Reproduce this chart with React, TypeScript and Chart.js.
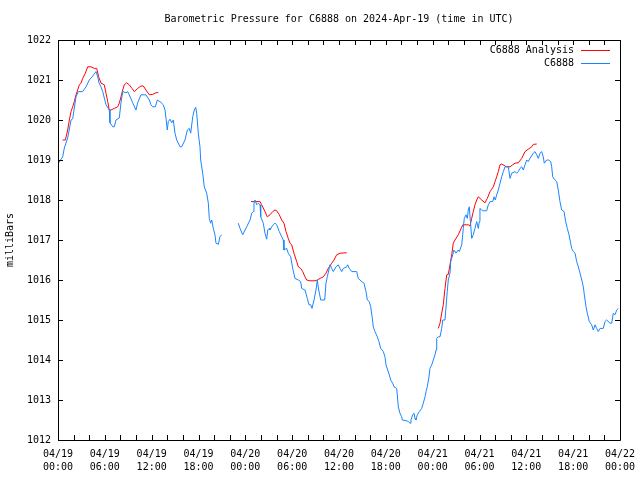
import React, { useEffect, useRef } from 'react';
import { Chart, registerables } from 'chart.js';

Chart.register(...registerables);

const chartTitle = 'Barometric Pressure for C6888 on 2024-Apr-19 (time in UTC)';
const yAxisTitle = 'milliBars';
const analysisLabel = 'C6888 Analysis';
const stationLabel = 'C6888';

// x axis: hours since 2024-04-19 00:00 UTC
const xMin = 0;
const xMax = 72;
const xTickStep = 6;
const xMinorStep = 2;
const xTickDates = ['04/19', '04/19', '04/19', '04/19', '04/20', '04/20', '04/20', '04/20', '04/21', '04/21', '04/21', '04/21', '04/22'];
const xTickTimes = ['00:00', '06:00', '12:00', '18:00', '00:00', '06:00', '12:00', '18:00', '00:00', '06:00', '12:00', '18:00', '00:00'];
const yMin = 1012;
const yMax = 1022;
const yStep = 1;

const stationHours = [
  0.09, 0.6, 0.81, 1.24, 1.67, 1.88, 2.31, 2.6, 3.16, 3.59, 4.01, 4.45, 4.87, 5.09, 5.25, 5.51, 5.73, 6.15, 6.57, 6.66,
  7.01, 7.21, 7.43, 7.85, 8.07, 8.29, 8.71, 8.93, 9.13, 9.57, 9.99, 10.21, 10.63, 11.27, 11.7, 11.91, 12.13, 12.47, 12.72, 13.07,
  13.49, 13.71, 13.84, 14.0, 14.13, 14.35, 14.57, 14.77, 14.99, 15.21, 15.63, 15.85, 16.27, 16.57, 16.82, 17.0, 17.26, 17.46, 17.64, 17.77,
  17.97, 18.19, 18.28, 18.54, 18.74, 19.05, 19.26, 19.38, 19.56, 19.69, 19.9, 20.11, 20.24, 20.54, 20.75, 20.97,
  22.0,
  23.1, 23.32, 23.66, 24.17, 24.6, 24.82, 25.02, 25.11, 25.24, 25.46, 25.66, 25.88, 25.97, 26.3, 26.52, 26.74, 26.87, 27.07, 27.16, 27.38,
  27.58, 27.8, 28.02, 28.35, 28.66, 28.86, 28.95, 29.3, 29.5, 29.81, 30.07, 30.36, 30.79, 31.09, 31.22, 31.64, 31.94, 32.16, 32.37, 32.54,
  32.8, 33.05, 33.22, 33.4, 33.66, 34.17, 34.33, 34.5, 34.85, 35.06, 35.27, 35.62, 35.91, 36.13, 36.35, 36.55, 36.99, 37.11, 37.32, 37.63,
  38.27, 38.47, 38.91, 39.2, 39.46, 39.63, 39.88, 40.06, 40.27, 40.39, 40.61, 40.91, 41.12, 41.34, 41.68, 41.89, 42.02, 42.24, 42.44, 42.62,
  42.88, 43.05, 43.39, 43.47, 43.6, 43.81, 44.03, 44.11, 44.67, 44.88, 45.1, 45.22, 45.44, 45.61, 45.74, 45.86, 46.03, 46.29, 46.59, 46.8,
  47.02, 47.15, 47.31, 47.53, 47.66, 47.88, 48.08, 48.3, 48.43, 48.52, 48.72, 48.94, 49.16, 49.29, 49.58, 49.71, 49.87, 50.0, 50.22, 50.31,
  50.57, 50.73, 50.99, 51.28, 51.41, 51.72, 51.85, 51.92, 52.05, 52.27, 52.44, 52.56, 52.69, 52.87, 53.0, 53.2, 53.42, 53.64, 53.85, 53.97,
  54.06, 54.28, 54.49, 54.92, 55.13, 55.35, 55.69, 55.86, 56.02, 56.2, 56.41, 56.63, 56.85, 57.05, 57.27, 57.69, 57.91, 58.13, 58.55, 58.77,
  58.97, 59.19, 59.41, 59.61, 59.83, 60.05, 60.25, 60.47, 60.89, 61.11, 61.33, 61.53, 61.75, 61.97, 62.17, 62.3, 62.61, 62.82, 63.12, 63.25,
  63.38, 63.58, 63.89, 64.09, 64.31, 64.53, 64.83, 65.04, 65.25, 65.47, 65.68, 65.81, 66.02, 66.24, 66.45, 66.66, 66.88, 67.1, 67.3, 67.43,
  67.65, 67.81, 68.07, 68.37, 68.58, 68.8, 69.01, 69.22, 69.44, 69.86, 70.08, 70.29, 70.72, 70.94, 71.14, 71.36, 71.58, 71.79,
];
const stationPressure = [
  1018.93, 1019.08, 1019.3, 1019.55, 1020.0, 1020.03, 1020.58, 1020.71, 1020.71, 1020.83, 1021.0, 1021.1, 1021.21, 1021.08, 1020.93, 1020.83, 1020.71, 1020.38, 1020.25, 1019.93,
  1019.83, 1019.83, 1020.0, 1020.05, 1020.43, 1020.71, 1020.68, 1020.71, 1020.63, 1020.43, 1020.25, 1020.43, 1020.63, 1020.63, 1020.5, 1020.38, 1020.33, 1020.33, 1020.5, 1020.46,
  1020.38, 1020.25, 1020.04, 1019.75, 1019.96, 1020.02, 1019.93, 1020.0, 1019.67, 1019.5, 1019.33, 1019.33, 1019.5, 1019.75, 1019.79, 1019.67, 1020.08, 1020.25, 1020.32, 1020.17,
  1019.67, 1019.33, 1019.0, 1018.67, 1018.33, 1018.17, 1017.92, 1017.54, 1017.42, 1017.5, 1017.29, 1017.13, 1016.92, 1016.89, 1017.08, 1017.13,
  null,
  1017.42, 1017.29, 1017.13, 1017.33, 1017.5, 1017.67, 1017.71, 1017.92, 1018.0, 1017.88, 1017.92, 1017.88, 1017.58, 1017.42, 1017.17, 1017.02, 1017.25, 1017.29, 1017.25, 1017.33,
  1017.38, 1017.42, 1017.38, 1017.21, 1017.08, 1017.0, 1016.75, 1016.79, 1016.67, 1016.58, 1016.29, 1016.04, 1016.0, 1015.96, 1015.79, 1015.75, 1015.54, 1015.38, 1015.38, 1015.29,
  1015.5, 1015.75, 1016.0, 1015.75, 1015.5, 1015.5, 1015.92, 1016.08, 1016.38, 1016.29, 1016.21, 1016.33, 1016.38, 1016.29, 1016.21, 1016.29, 1016.33, 1016.38, 1016.29, 1016.21,
  1016.21, 1016.04, 1015.96, 1015.92, 1015.71, 1015.5, 1015.46, 1015.33, 1015.04, 1014.83, 1014.71, 1014.58, 1014.46, 1014.29, 1014.21, 1014.08, 1013.88, 1013.75, 1013.63, 1013.5,
  1013.42, 1013.33, 1013.29, 1013.13, 1012.83, 1012.67, 1012.58, 1012.5, 1012.48, 1012.46, 1012.42, 1012.5, 1012.63, 1012.67, 1012.54, 1012.5, 1012.63, 1012.71, 1012.79, 1012.92,
  1013.08, 1013.21, 1013.33, 1013.58, 1013.79, 1013.88, 1014.0, 1014.13, 1014.25, 1014.54, 1014.58, 1014.58, 1014.79, 1015.0, 1015.0, 1015.33, 1015.71, 1016.0, 1016.17, 1016.46,
  1016.63, 1016.75, 1016.67, 1016.75, 1016.71, 1016.88, 1017.13, 1017.29, 1017.54, 1017.63, 1017.54, 1017.75, 1017.83, 1017.38, 1017.04, 1017.13, 1017.29, 1017.46, 1017.29, 1017.46,
  1017.79, 1017.75, 1017.73, 1017.73, 1017.88, 1017.96, 1017.96, 1018.08, 1018.0, 1018.13, 1018.25, 1018.42, 1018.58, 1018.71, 1018.83, 1018.83, 1018.54, 1018.67, 1018.71, 1018.67,
  1018.71, 1018.79, 1018.83, 1018.75, 1018.88, 1019.0, 1018.96, 1019.04, 1019.17, 1019.21, 1019.13, 1019.04, 1019.17, 1019.21, 1019.08, 1018.92, 1019.0, 1019.0, 1018.96, 1018.83,
  1018.58, 1018.52, 1018.46, 1018.25, 1017.96, 1017.75, 1017.71, 1017.46, 1017.29, 1017.13, 1016.92, 1016.79, 1016.71, 1016.67, 1016.46, 1016.33, 1016.17, 1016.0, 1015.83, 1015.63,
  1015.33, 1015.17, 1014.96, 1014.88, 1014.75, 1014.88, 1014.79, 1014.71, 1014.79, 1014.79, 1014.96, 1015.0, 1014.92, 1014.92, 1015.17, 1015.13, 1015.25, 1015.29,
];

const analysisHours = [
  0.6, 0.94, 1.24, 1.45, 1.67, 1.88, 2.09, 2.31, 2.52, 2.73, 2.95, 3.16, 3.5, 3.8, 4.23, 4.65, 4.96, 5.21, 5.51, 5.93,
  6.15, 6.37, 6.57, 6.79, 7.21, 7.65, 7.85, 8.07, 8.29, 8.49, 8.8, 9.13, 9.48, 9.78, 10.21, 10.63, 10.93, 11.27, 11.7, 12.13,
  12.55, 12.85,
  18.0,
  24.73, 25.88, 26.1, 26.52, 26.81, 27.16, 27.51, 27.8, 28.02, 28.35, 28.66, 28.95, 29.21, 29.5, 29.72, 29.94, 30.23, 30.58, 30.79, 31.09,
  31.35, 31.64, 31.86, 32.28, 32.93, 33.22, 33.57, 33.99, 34.33, 34.63, 35.06, 35.36, 35.7, 36.13, 36.99,
  42.0,
  48.72, 48.94, 49.16, 49.36, 49.58, 49.8, 50.0, 50.22, 50.44, 50.64, 50.86, 51.28, 51.72, 51.85, 52.56, 52.78, 53.0, 53.2, 53.42, 53.64,
  53.85, 54.28, 54.7, 55.0, 55.35, 55.56, 55.77, 55.99, 56.2, 56.41, 56.63, 56.85, 57.27, 57.49, 57.91, 58.25, 58.55, 58.97, 59.41, 59.83,
  60.25, 60.69, 60.89, 61.33,
];
const analysisPressure = [
  1019.5, 1019.5, 1019.75, 1020.0, 1020.21, 1020.33, 1020.46, 1020.63, 1020.75, 1020.88, 1020.92, 1021.04, 1021.17, 1021.33, 1021.33, 1021.29, 1021.29, 1021.08, 1020.92, 1020.88,
  1020.67, 1020.46, 1020.25, 1020.25, 1020.29, 1020.33, 1020.42, 1020.58, 1020.75, 1020.88, 1020.93, 1020.88, 1020.79, 1020.71, 1020.79, 1020.85, 1020.85, 1020.75, 1020.63, 1020.64,
  1020.68, 1020.69,
  null,
  1017.96, 1017.96, 1017.88, 1017.71, 1017.58, 1017.63, 1017.71, 1017.75, 1017.73, 1017.63, 1017.5, 1017.42, 1017.21, 1017.04, 1016.92, 1016.88, 1016.67, 1016.46, 1016.33, 1016.29,
  1016.21, 1016.08, 1016.0, 1015.98, 1015.98, 1016.0, 1016.04, 1016.08, 1016.17, 1016.29, 1016.42, 1016.5, 1016.63, 1016.67, 1016.68,
  null,
  1014.79, 1014.92, 1015.17, 1015.38, 1015.79, 1016.13, 1016.14, 1016.38, 1016.63, 1016.92, 1017.0, 1017.13, 1017.32, 1017.38, 1017.38, 1017.35, 1017.54, 1017.71, 1017.88, 1018.0,
  1018.08, 1018.0, 1017.93, 1018.04, 1018.21, 1018.27, 1018.33, 1018.46, 1018.58, 1018.71, 1018.88, 1018.9, 1018.85, 1018.83, 1018.83, 1018.88, 1018.92, 1018.93, 1019.04, 1019.21,
  1019.27, 1019.33, 1019.39, 1019.4,
];

const FONT_FAMILY = '"DejaVu Sans Mono", monospace';
const analysisColor = '#ff0000';
const stationColor = '#1a84ff';

const framePlugin = {
  id: 'gnuplotFrame',
  afterDatasetsDraw(chart: any) {
    const { ctx, chartArea } = chart;
    const { left, right, top, bottom } = chartArea;
    const xs = chart.scales.x;
    const ys = chart.scales.y;
    ctx.save();
    ctx.strokeStyle = '#000';
    ctx.lineWidth = 1;
    ctx.beginPath();
    ctx.rect(Math.round(left) + 0.5, Math.round(top) + 0.5, Math.round(right - left), Math.round(bottom - top));
    ctx.stroke();
    const tl = 5;
    ctx.beginPath();
    for (let h = xMin; h <= xMax; h += xMinorStep) {
      const px = Math.round(xs.getPixelForValue(h)) + 0.5;
      ctx.moveTo(px, bottom);
      ctx.lineTo(px, bottom - tl);
      ctx.moveTo(px, top);
      ctx.lineTo(px, top + tl);
    }
    for (let v = yMin; v <= yMax; v += yStep) {
      const py = Math.round(ys.getPixelForValue(v)) + 0.5;
      ctx.moveTo(left, py);
      ctx.lineTo(left + tl, py);
      ctx.moveTo(right, py);
      ctx.lineTo(right - tl, py);
    }
    ctx.stroke();

    // legend (top-right, inside the plot)
    ctx.font = '10px ' + FONT_FAMILY;
    ctx.fillStyle = '#000';
    ctx.textAlign = 'right';
    ctx.textBaseline = 'middle';
    const dsets = chart.data.datasets;
    dsets.forEach((ds: any, i: number) => {
      const y = top + 9.5 + i * 13;
      ctx.fillText(ds.label, right - 46, y + 0.5);
      ctx.strokeStyle = ds.borderColor;
      ctx.beginPath();
      ctx.moveTo(right - 39, Math.round(y) + 0.5);
      ctx.lineTo(right - 10, Math.round(y) + 0.5);
      ctx.stroke();
    });
    ctx.restore();
  },
};

export default function App() {
  const canvasRef = useRef<HTMLCanvasElement | null>(null);

  useEffect(() => {
    document.body.style.margin = '0';
    const canvas = canvasRef.current;
    if (!canvas) return;
    const toPoints = (xsArr: number[], ysArr: (number | null)[]) =>
      xsArr.map((x, i) => ({ x, y: ysArr[i] }));

    const chart = new Chart(canvas, {
      type: 'line',
      data: {
        datasets: [
          {
            label: analysisLabel,
            data: toPoints(analysisHours, analysisPressure) as any,
            borderColor: analysisColor,
            backgroundColor: analysisColor,
            borderWidth: 1,
            pointRadius: 0,
            tension: 0,
            spanGaps: false,
            order: 1,
          },
          {
            label: stationLabel,
            data: toPoints(stationHours, stationPressure) as any,
            borderColor: stationColor,
            backgroundColor: stationColor,
            borderWidth: 1,
            pointRadius: 0,
            tension: 0,
            spanGaps: false,
            order: 0,
          },
        ],
      },
      options: {
        animation: false,
        responsive: false,
        maintainAspectRatio: false,
        layout: { padding: { left: 0, right: 20, top: 0, bottom: 0 } },
        plugins: {
          legend: { display: false },
          tooltip: { enabled: false },
          title: {
            display: true,
            text: chartTitle,
            fullSize: false,
            color: '#000',
            font: { family: FONT_FAMILY, size: 10, weight: 'normal', lineHeight: 1.2 },
            padding: { top: 13, bottom: 15 },
          },
        },
        scales: {
          x: {
            type: 'linear',
            min: xMin,
            max: xMax,
            grid: { display: false, drawTicks: false },
            border: { display: false },
            afterFit: (scale: any) => {
              scale.height = 40;
              scale.paddingLeft = 0;
              scale.paddingRight = 0;
            },
            afterBuildTicks: (scale: any) => {
              const t: any[] = [];
              for (let h = xMin; h <= xMax; h += xTickStep) t.push({ value: h });
              scale.ticks = t;
            },
            ticks: {
              autoSkip: false,
              maxRotation: 0,
              minRotation: 0,
              padding: 8,
              color: '#000',
              font: { family: FONT_FAMILY, size: 10, lineHeight: 1.3 },
              callback: (_v: any, i: number) => [xTickDates[i], xTickTimes[i]],
            },
          },
          y: {
            type: 'linear',
            min: yMin,
            max: yMax,
            grid: { display: false, drawTicks: false },
            border: { display: false },
            afterFit: (scale: any) => {
              scale.width = 58;
              scale.paddingTop = 0;
              scale.paddingBottom = 0;
            },
            ticks: {
              stepSize: yStep,
              padding: 7,
              color: '#000',
              font: { family: FONT_FAMILY, size: 10 },
              callback: (v: any) => String(v),
            },
            title: {
              display: true,
              text: yAxisTitle,
              color: '#000',
              font: { family: FONT_FAMILY, size: 10, lineHeight: 1.2 },
              padding: { top: 4, bottom: 0 },
            },
          },
        },
      },
      plugins: [framePlugin],
    } as any);

    return () => {
      chart.destroy();
    };
  }, []);

  return (
    <div style={{ width: 640, height: 480 }}>
      <canvas ref={canvasRef} width={640} height={480} style={{ display: 'block' }} />
    </div>
  );
}
